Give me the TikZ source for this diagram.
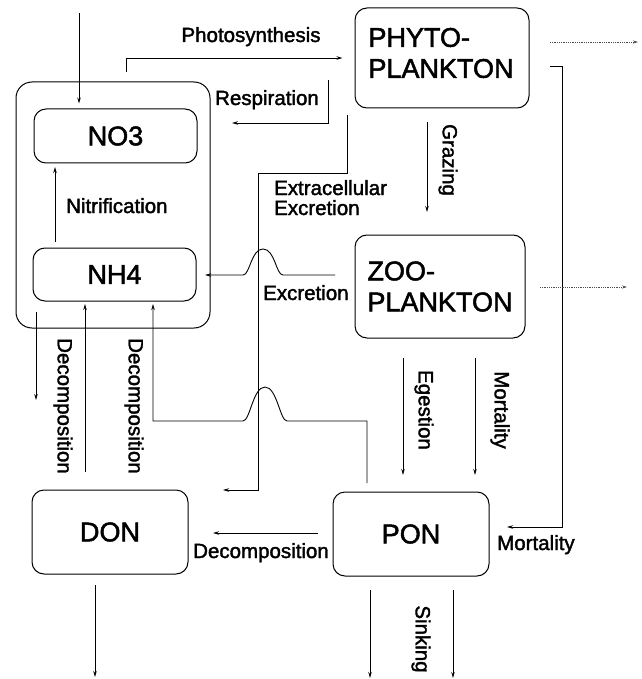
\documentclass[tikz,border=0pt]{standalone}
\usepackage{fontspec}
\setmainfont{Liberation Sans}[FakeBold=1.8]
\usetikzlibrary{arrows.meta,calc}
\begin{document}
\begin{tikzpicture}[x=1pt,y=-1pt,
  box/.style={draw, rounded corners=12pt, line width=1pt, inner sep=0pt,
    font=\fontsize{27}{31}\selectfont},
  title/.style={inner sep=0pt, align=left, font=\fontsize{27}{31}\selectfont},
  flow/.style={line width=0.9pt, -{Stealth[length=6pt,width=3.5pt]}},
  lbl/.style={font=\fontsize{20.5}{22}\selectfont, inner sep=0pt},
  vlbl/.style={lbl, rotate=-90},
  export/.style={line width=0.8pt, densely dotted, black!70,
    -{Stealth[length=5pt,width=3pt]}}
]
\useasboundingbox (0,0) rectangle (641,679);

% ---- compartments ----
\node[box, rounded corners=16pt, minimum width=194pt, minimum height=246pt] (pool) at (113,205) {};
\node[box, minimum width=163pt, minimum height=54pt] (no3) at (115.5,136) {NO3};
\node[box, minimum width=163pt, minimum height=53pt] (nh4) at (114.5,274.5) {NH4};
\node[box, minimum width=174pt, minimum height=100pt] (phyto) at (442,58) {};
\node[title] (phytoText) at (441,53) {PHYTO-\\PLANKTON};
\node[box, minimum width=170pt, minimum height=103pt, align=left] (zoo) at (440,286.5) {ZOO-\\PLANKTON};
\node[box, minimum width=156pt, minimum height=84pt] (don) at (110,532) {DON};
\node[box, minimum width=156pt, minimum height=84pt] (pon) at (411,534) {PON};

% ---- free ends of the connectors ----
\coordinate (srcTop) at (79,13);
\coordinate (psTail) at (126,72);
\coordinate (rsTail) at (328,80);
\coordinate (rsHead) at (232,123);
\coordinate (exTail) at (347,115);
\coordinate (exBend) at (258,173);
\coordinate (exHead) at (223,490);
\coordinate (grTail) at (427,122);
\coordinate (grHead) at (427,212);
\coordinate (xcTail) at (335,275);
\coordinate (xcHead) at (205,275);
\coordinate (dpTail) at (367,483);
\coordinate (dpHead) at (153,304);
\coordinate (ddTail) at (85,472);
\coordinate (ddHead) at (85,304);
\coordinate (ndTail) at (36,312);
\coordinate (ndHead) at (36,400);
\coordinate (doTail) at (95,585);
\coordinate (doHead) at (95,677);
\coordinate (pdTail) at (318,533);
\coordinate (pdHead) at (213,533);
\coordinate (skATail) at (370,590);
\coordinate (skAHead) at (370,678);
\coordinate (skBTail) at (453,590);
\coordinate (skBHead) at (453,678);
\coordinate (egTail) at (403,358);
\coordinate (egHead) at (403,475);
\coordinate (zmTail) at (475,358);
\coordinate (zmHead) at (475,475);
\coordinate (pmTail) at (550,66);
\coordinate (pmHead) at (507,527);
\coordinate (peTail) at (550,42);
\coordinate (peHead) at (638,42);
\coordinate (zeTail) at (540,287);
\coordinate (zeHead) at (627,287);
\coordinate (niTail) at (55,242);
\coordinate (niHead) at (55,167);

% ---- fluxes ----
\draw[flow, shorten >=5pt] (srcTop) -- (srcTop |- no3.north);
\draw[flow, shorten >=12pt] (psTail) |- (phyto.west);
\draw[flow] (rsTail) |- (rsHead);
\draw[flow] (exTail) |- (exBend) |- (exHead);
\draw[flow] (grTail) -- (grHead);
\draw[flow] (niTail) -- (niHead);
% excretion jumps over the extracellular line
\draw[flow] (xcTail) -- (283,275)
  .. controls (276,275) and (275,249) .. (263,249)
  .. controls (251,249) and (250,275) .. (243,275) -- (xcHead);
% decomposition of PON to NH4, also jumping the line
\draw[flow] (dpTail) |- (287,421)
  .. controls (280,421) and (277,387) .. (265,387)
  .. controls (253,387) and (250,421) .. (243,421) -| (dpHead);
\draw[flow] (ddTail) -- (ddHead);
\draw[flow] (ndTail) -- (ndHead);
\draw[flow] (doTail) -- (doHead);
\draw[flow] (pdTail) -- (pdHead);
\draw[flow] (skATail) -- (skAHead);
\draw[flow] (skBTail) -- (skBHead);
\draw[flow] (egTail) -- (egHead);
\draw[flow] (zmTail) -- (zmHead);
\draw[flow] (pmTail) -- (562,66) |- (pmHead);
\draw[export] (peTail) -- (peHead);
\draw[export] (zeTail) -- (zeHead);

% ---- labels ----
\node[lbl, anchor=base] (lPhoto) at (251,42) {Photosynthesis};
\node[lbl, anchor=base] (lResp) at (267,105) {Respiration};
\node[lbl, anchor=base west] (lExtra) at (274,195) {Extracellular};
\node[lbl, anchor=base west] (lExtra2) at (274,215) {Excretion};
\node[lbl, anchor=base west] (lNitri) at (66,213) {Nitrification};
\node[lbl, anchor=base west] (lExcr) at (263,300) {Excretion};
\node[lbl, anchor=base west] (lDecH) at (193,558) {Decomposition};
\node[lbl, anchor=base west] (lMortP) at (497,550) {Mortality};
\node[vlbl] (lGraz) at (448,160) {Grazing};
\node[vlbl] (lDecA) at (63,406) {Decomposition};
\node[vlbl] (lDecB) at (134,406) {Decomposition};
\node[vlbl] (lEge) at (424,410) {Egestion};
\node[vlbl] (lMortZ) at (500,410) {Mortality};
\node[vlbl] (lSink) at (421,639) {Sinking};
\end{tikzpicture}
\end{document}
